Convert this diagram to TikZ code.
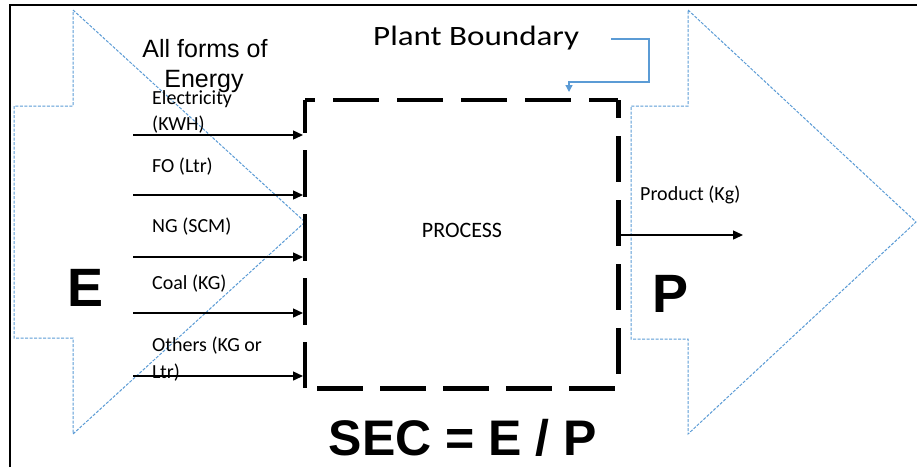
\documentclass[tikz,border=0pt]{standalone}
\usepackage{fontspec}
\setmainfont{Carlito}
\newfontfamily\arialf{Liberation Sans}
\newfontfamily\pbfont[FakeStretch=1.18]{Carlito}
\usetikzlibrary{arrows.meta}
\definecolor{pblue}{RGB}{91,155,213}
\begin{document}
\begin{tikzpicture}[x=1pt,y=-1pt,
  bigarrow/.style={draw=pblue, line width=1pt, dash pattern=on 3pt off 1.5pt},
  inarrow/.style={draw=black, line width=1.4pt, -{Triangle[length=10pt,width=9pt]}},
  lbl/.style={anchor=base west, inner sep=0pt, font=\fontsize{20}{24}\selectfont},
  boxdash/.style={line width=4.5pt, draw=black},
  bigletter/.style={anchor=base, inner sep=0pt, font=\arialf\bfseries\fontsize{54}{60}\selectfont},
]
\useasboundingbox (0,0) rectangle (917,467);
% frame
\draw[line width=2pt] (10,467) -- (10,5) -- (917,5);
% big arrows
\draw[bigarrow] (73,10) -- (305,222) -- (73,434) -- (73,338) -- (14,338) -- (14,106) -- (73,106) -- cycle;
\draw[bigarrow] (688,10) -- (916,222) -- (688,434) -- (688,339) -- (631,339) -- (631,106) -- (688,106) -- cycle;
% process box
\node[minimum width=313pt, minimum height=288pt, inner sep=0pt, anchor=north west] (proc) at (305,100) {};
\draw[boxdash, dash pattern=on 46pt off 18pt, dash phase=36pt] (proc.north west) -- (proc.north east);
\draw[boxdash, dash pattern=on 47pt off 17pt, dash phase=14pt] (proc.north west) -- (proc.south west);
\draw[boxdash, dash pattern=on 46pt off 18pt, dash phase=28pt] (proc.north east) -- (proc.south east);
\draw[boxdash, dash pattern=on 46pt off 17pt, dash phase=51pt] (proc.south west) -- (proc.south east);
\node[anchor=base, inner sep=0pt, font=\fontsize{22}{26}\selectfont] (ptext) at (462,237) {PROCESS};
% inputs
\foreach \n/\y in {e/135, fo/195, ng/257, co/313, ot/376}{
  \coordinate (s-\n) at (133,\y);
  \draw[inarrow, shorten >=2pt] (s-\n) -- (s-\n -| proc.west);
}
\node[lbl] (l1) at (152,104) {Electricity};
\node[lbl] (l1b) at (152,130) {(KWH)};
\node[lbl] (l2) at (152,172) {FO (Ltr)};
\node[lbl] (l3) at (152,232) {NG (SCM)};
\node[lbl] (l4) at (152,289) {Coal (KG)};
\node[lbl] (l5) at (152,351) {Others (KG or};
\node[lbl] (l5b) at (152,378) {Ltr)};
% output
\coordinate (pout) at (743,235);
\draw[inarrow] (proc.east |- pout) -- (pout);
\node[lbl] (lp) at (640,200) {Product (Kg)};
% titles
\node[anchor=base, inner sep=0pt, font=\arialf\fontsize{25}{30}\selectfont] (allf) at (205,57) {All forms of};
\node[anchor=base, inner sep=0pt, font=\arialf\fontsize{25}{30}\selectfont] (energy) at (204,87) {Energy};
\node[anchor=base west, inner sep=0pt, font=\pbfont\fontsize{28}{32}\selectfont] (pb) at (373,45) {Plant Boundary};
\coordinate (pbs) at (611,39);
\coordinate (pbt) at (569,92);
\draw[pblue, line width=1.3pt, -{Triangle[length=7pt,width=7pt]}] (pbs) -- (649,39) -- (649,82) -- (569,82) -- (pbt);
\node[bigletter] (E) at (86,306) {E};
\node[bigletter] (P) at (670,312) {P};
\node[anchor=base, inner sep=0pt, font=\arialf\bfseries\fontsize{50}{56}\selectfont] (sec) at (463,455) {SEC = E / P};
\end{tikzpicture}
\end{document}
